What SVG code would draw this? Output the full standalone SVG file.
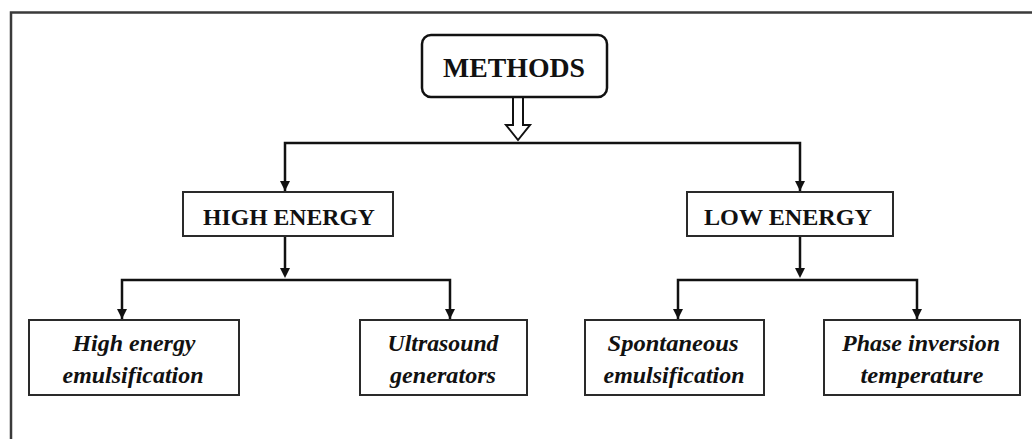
<svg xmlns="http://www.w3.org/2000/svg" width="1032" height="439" viewBox="0 0 1032 439">
<style>
.frame{stroke:#3a3a3a;stroke-width:2.5;fill:none}
.box{fill:#fff;stroke:#2a2a2a;stroke-width:2}
.conn{stroke:#111;stroke-width:2.5;fill:none}
.t{font-family:"Liberation Serif","Times New Roman",serif;font-weight:bold;fill:#111;text-anchor:middle}
.big{font-size:28px}
.mid{font-size:24px}
.it{font-size:23px;font-style:italic}
</style>
<defs>
<marker id="ah" markerUnits="userSpaceOnUse" markerWidth="12" markerHeight="12" viewBox="0 0 12 12" refX="6" refY="11" orient="auto-start-reverse">
<path d="M1,1 L11,1 L6,11 Z" fill="#111" transform="rotate(0)"/>
</marker>
</defs>
<rect width="1032" height="439" fill="#fff"/>
<path class="frame" d="M11,439 L11,12.5 L1032,12.5"/>
<g id="connectors">
<path d="M513,97 L513,125 L506,125 L518,140 L530,125 L523,125 L523,97" fill="#fff" stroke="#111" stroke-width="2"/>
<path class="conn" d="M285,192 L285,143 L800,143 L800,192"/>
<path d="M280,181 L290,181 L285,191 Z" fill="#111"/>
<path d="M795,181 L805,181 L800,191 Z" fill="#111"/>
<line class="conn" x1="285" y1="236" x2="285" y2="270"/>
<path d="M280,268 L290,268 L285,278 Z" fill="#111"/>
<path class="conn" d="M122,320 L122,280 L450,280 L450,320"/>
<path d="M117,309 L127,309 L122,319 Z" fill="#111"/>
<path d="M445,309 L455,309 L450,319 Z" fill="#111"/>
<line class="conn" x1="800" y1="236" x2="800" y2="270"/>
<path d="M795,268 L805,268 L800,278 Z" fill="#111"/>
<path class="conn" d="M678,320 L678,280 L917,280 L917,320"/>
<path d="M673,309 L683,309 L678,319 Z" fill="#111"/>
<path d="M912,309 L922,309 L917,319 Z" fill="#111"/>
</g>
<g id="methods">
<rect x="422" y="35" width="185" height="62" rx="9" fill="#fff" stroke="#111" stroke-width="2.5"/>
<text class="t big" x="514" y="77" textLength="142" lengthAdjust="spacingAndGlyphs">METHODS</text>
</g>
<g id="high-energy">
<rect class="box" x="183" y="192" width="210" height="44"/>
<text class="t mid" x="289" y="225" textLength="172" lengthAdjust="spacingAndGlyphs">HIGH ENERGY</text>
</g>
<g id="low-energy">
<rect class="box" x="687" y="192" width="206" height="44"/>
<text class="t mid" x="788" y="225" textLength="168" lengthAdjust="spacingAndGlyphs">LOW ENERGY</text>
</g>
<g id="high-energy-emulsification">
<rect class="box" x="29" y="320" width="210" height="75"/>
<text class="t it" x="134" y="351" textLength="123" lengthAdjust="spacingAndGlyphs">High energy</text>
<text class="t it" x="133" y="383" textLength="141" lengthAdjust="spacingAndGlyphs">emulsification</text>
</g>
<g id="ultrasound-generators">
<rect class="box" x="360" y="320" width="167" height="75"/>
<text class="t it" x="443" y="351" textLength="111" lengthAdjust="spacingAndGlyphs">Ultrasound</text>
<text class="t it" x="443" y="383" textLength="106" lengthAdjust="spacingAndGlyphs">generators</text>
</g>
<g id="spontaneous-emulsification">
<rect class="box" x="585" y="320" width="179" height="75"/>
<text class="t it" x="673" y="351" textLength="131" lengthAdjust="spacingAndGlyphs">Spontaneous</text>
<text class="t it" x="674" y="383" textLength="141" lengthAdjust="spacingAndGlyphs">emulsification</text>
</g>
<g id="phase-inversion-temperature">
<rect class="box" x="824" y="320" width="196" height="75"/>
<text class="t it" x="921" y="351" textLength="158" lengthAdjust="spacingAndGlyphs">Phase inversion</text>
<text class="t it" x="922" y="383" textLength="123" lengthAdjust="spacingAndGlyphs">temperature</text>
</g>
</svg>
